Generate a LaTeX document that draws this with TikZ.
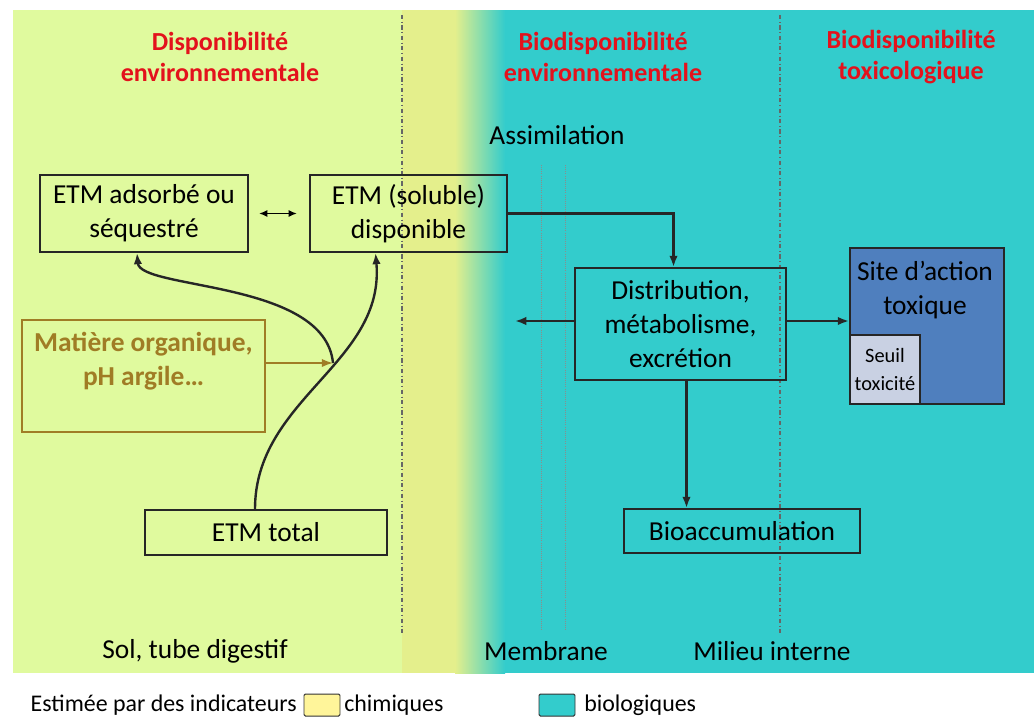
\documentclass[tikz,border=0pt]{standalone}
\usepackage{fontspec}
\setmainfont{Carlito}
\usetikzlibrary{arrows.meta}
\usepackage{xcolor}
\definecolor{chem}{HTML}{E0FA9E}
\definecolor{band}{HTML}{E4EF8C}
\definecolor{bio}{HTML}{33CCCC}
\definecolor{titred}{HTML}{E3121C}
\definecolor{matbrown}{HTML}{A07C25}
\definecolor{siteblue}{HTML}{4F7FBE}
\definecolor{seuilgray}{HTML}{C9D1E3}
\definecolor{legyellow}{HTML}{FFF59A}
\newcommand{\pu}{0.025cm}
\newcommand{\mainsize}{\fontsize{19.5}{24}\selectfont}
\newcommand{\titlesize}{\fontsize{18.5}{22}\selectfont}
\newcommand{\smallsize}{\fontsize{14.5}{20}\selectfont}
\newcommand{\legsize}{\fontsize{17}{20}\selectfont}
\tikzset{
    box/.style={
        draw=black!85,
        line width=1.3pt,
        inner sep=0pt,
        align=center,
        font=\mainsize
    },
    title/.style={text=titred,font=\titlesize\bfseries,align=center},
    txt/.style={font=\mainsize,align=center},
    arr/.style={-{Latex[length=8pt,width=6pt]},line width=1.7pt,draw=black!85},
    sep/.style={dash dot,line width=0.8pt,draw=black!60},
    memb/.style={densely dotted,line width=0.5pt,draw=black!45},
    legsq/.style={draw=black!80,line width=0.7pt,rounded corners=1pt,
        minimum width=36*\pu,minimum height=22*\pu,inner sep=0pt}
}
\newcommand{\etmbox}[6]{
    \node[box,minimum width=#4*\pu,minimum height=#5*\pu] (#1) at (#2,#3) {#6};
}
\begin{document}
\begin{tikzpicture}[x=\pu,y=-\pu]
    \useasboundingbox (0,0) rectangle (1034,718);
    \fill[chem] (13,10) rectangle (402,673);
    \fill[band] (402,10) rectangle (455,673);
    \shade[left color=band,right color=bio] (455,10) rectangle (505,673);
    \fill[bio] (505,10) rectangle (1034,673);
    \draw[sep] (402,15) -- (402,634);
    \draw[sep] (780,15) -- (780,634);
    \draw[memb] (541,165) -- (541,630);
    \draw[memb] (565,165) -- (565,630);

    \node[title] (tdispo) at (220,57) {Disponibilité\\environnementale};
    \node[title] (tbioenv) at (603,57) {Biodisponibilité\\environnementale};
    \node[title] (tbiotox) at (911,57) {Biodisponibilité\\toxicologique};
    \node[txt] (assim) at (557,135) {Assimilation};

    \etmbox{adsorb}{144}{213.5}{208}{77}{ETM adsorbé ou\\séquestré}
    \etmbox{dispo}{408.5}{213.5}{197}{77}{ETM (soluble)\\disponible}
    \etmbox{total}{266}{532.5}{242}{45}{ETM total}
    \etmbox{distrib}{680.5}{324}{211}{112}{Distribution,\\métabolisme,\\excrétion}
    \etmbox{bioacc}{742}{531}{236}{44}{Bioaccumulation}
    \node[box,draw=matbrown,text=matbrown,line width=1pt,font=\mainsize\bfseries,
        minimum width=243*\pu,minimum height=112*\pu] (matiere) at (143.5,376)
        {Matière organique,\\pH argile…\\~};
    \node[box,fill=siteblue,minimum width=154*\pu,minimum height=156*\pu] (site) at (927,326) {};
    \node[txt] (sitetxt) at (925,290) {Site d’action\\toxique};
    \node[box,fill=seuilgray,font=\smallsize,minimum width=70*\pu,minimum height=69*\pu]
        (seuil) at (885,369.5) {Seuil\\toxicité};

    \coordinate (junc) at (333,363);
    \coordinate (rejet) at (515,321);
    \draw[{Latex[length=6pt,width=5pt]}-{Latex[length=6pt,width=5pt]},line width=1.2pt]
        ([xshift=10*\pu]adsorb.east) -- ([xshift=-12*\pu]dispo.west);
    \draw[arr] (dispo.east) -| ([xshift=-7*\pu]distrib.north);
    \draw[arr] (distrib.west |- rejet) -- (rejet);
    \draw[arr] (distrib.east |- rejet) -- (site.west |- rejet);
    \draw[arr] ([xshift=6*\pu]distrib.south) -- ([xshift=6*\pu]distrib.south |- bioacc.north);
    \draw[arr] ([xshift=-11*\pu]total.north) to[out=90,in=-85] ([xshift=-33*\pu]dispo.south);
    \draw[arr] (junc) .. controls (325,280) and (140,290) .. ([xshift=-7*\pu]adsorb.south);
    \draw[arr,draw=matbrown,line width=1.3pt] (matiere.east |- junc) -- (junc);

    \node[txt] (sol) at (195,651) {Sol, tube digestif};
    \node[txt] (membrane) at (546,651) {Membrane};
    \node[txt] (milieu) at (772,651) {Milieu interne};

    \node[font=\legsize,anchor=east,inner sep=0pt] (legtxt) at (297,705) {Estimée par des indicateurs};
    \node[legsq,fill=legyellow] (legchem) at (322,705) {};
    \node[font=\legsize,anchor=west,inner sep=0pt] (chimiques) at (344,705) {chimiques};
    \node[legsq,fill=bio] (legbio) at (557,705) {};
    \node[font=\legsize,anchor=west,inner sep=0pt] (biologiques) at (584,705) {biologiques};
\end{tikzpicture}
\end{document}
